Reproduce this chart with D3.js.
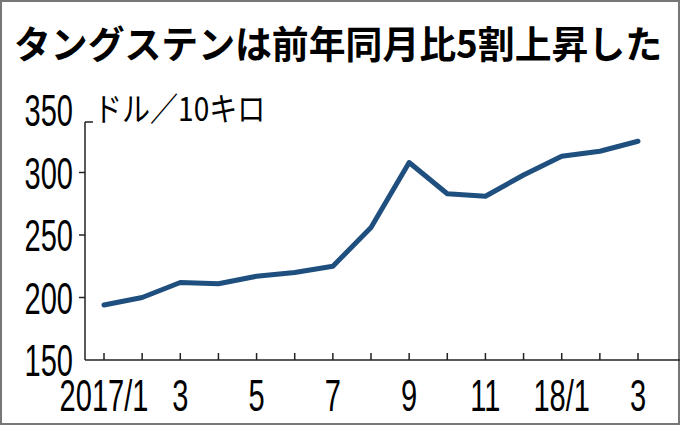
<!DOCTYPE html><html><head><meta charset="utf-8">
<script src="https://cdn.jsdelivr.net/npm/d3@7"></script>
<style>body{margin:0;background:#fff}</style></head><body><svg id="c" width="680" height="425"></svg>
<script>
const months=["2017/1","2","3","4","5","6","7","8","9","10","11","12","18/1","2","3"];
const labels=["2017/1","","3","","5","","7","","9","","11","","18/1","","3"];
const values=[194,200,212,211,217,220,225,256,308,283,281,298,313,317,325];
const yTicks=[150,200,250,300,350];
const svg=d3.select("#c");
svg.append("rect").attr("x",1).attr("y",1).attr("width",678).attr("height",423).attr("fill","#fff").attr("stroke","#777").attr("stroke-width",2);
const fam="'Liberation Sans',Arial,sans-serif";
svg.append("text").attr("x",14).attr("y",58).attr("font-family","'Noto Sans CJK JP',sans-serif").attr("font-weight","bold").attr("font-size",38).attr("textLength",648).attr("lengthAdjust","spacingAndGlyphs").text("タングステンは前年同月比5割上昇した");
const x=d3.scalePoint().domain(d3.range(months.length)).range([104,638]);
const y=d3.scaleLinear().domain([150,350]).range([360,110]);
const g=svg.append("g");
g.append("line").attr("x1",85).attr("x2",680).attr("y1",360).attr("y2",360).attr("stroke","#222").attr("stroke-width",1.5);
g.append("line").attr("x1",85).attr("x2",85).attr("y1",122).attr("y2",360).attr("stroke","#222").attr("stroke-width",1.5);
g.append("line").attr("x1",85).attr("x2",93).attr("y1",122).attr("y2",122).attr("stroke","#222").attr("stroke-width",1.5);
d3.range(months.length).forEach(i=>{
 g.append("line").attr("x1",x(i)).attr("x2",x(i)).attr("y1",360).attr("y2",353).attr("stroke","#222").attr("stroke-width",1.5);
 if(labels[i]) g.append("text").attr("transform",`translate(${x(i)},411) scale(0.66,1)`).attr("text-anchor","middle").attr("font-family",fam).attr("font-size",44).text(labels[i]);
});
yTicks.forEach(v=>{
 if(v>150&&v<350) g.append("line").attr("x1",79).attr("x2",85).attr("y1",y(v)).attr("y2",y(v)).attr("stroke","#222").attr("stroke-width",1.5);
 g.append("text").attr("transform",`translate(73,${y(v)+16}) scale(0.66,1)`).attr("text-anchor","end").attr("font-family",fam).attr("font-size",44).text(v);
});
svg.append("text").attr("transform","translate(94,121) scale(0.85,1)").attr("font-family","'Noto Sans CJK JP',sans-serif").attr("font-size",33).text("ドル／10キロ");
svg.append("path").datum(values).attr("fill","none").attr("stroke","#1f4f7e").attr("stroke-width",5).attr("stroke-linejoin","round").attr("stroke-linecap","round")
 .attr("d",d3.line().x((d,i)=>x(i)).y(d=>y(d)));
</script></body></html>
